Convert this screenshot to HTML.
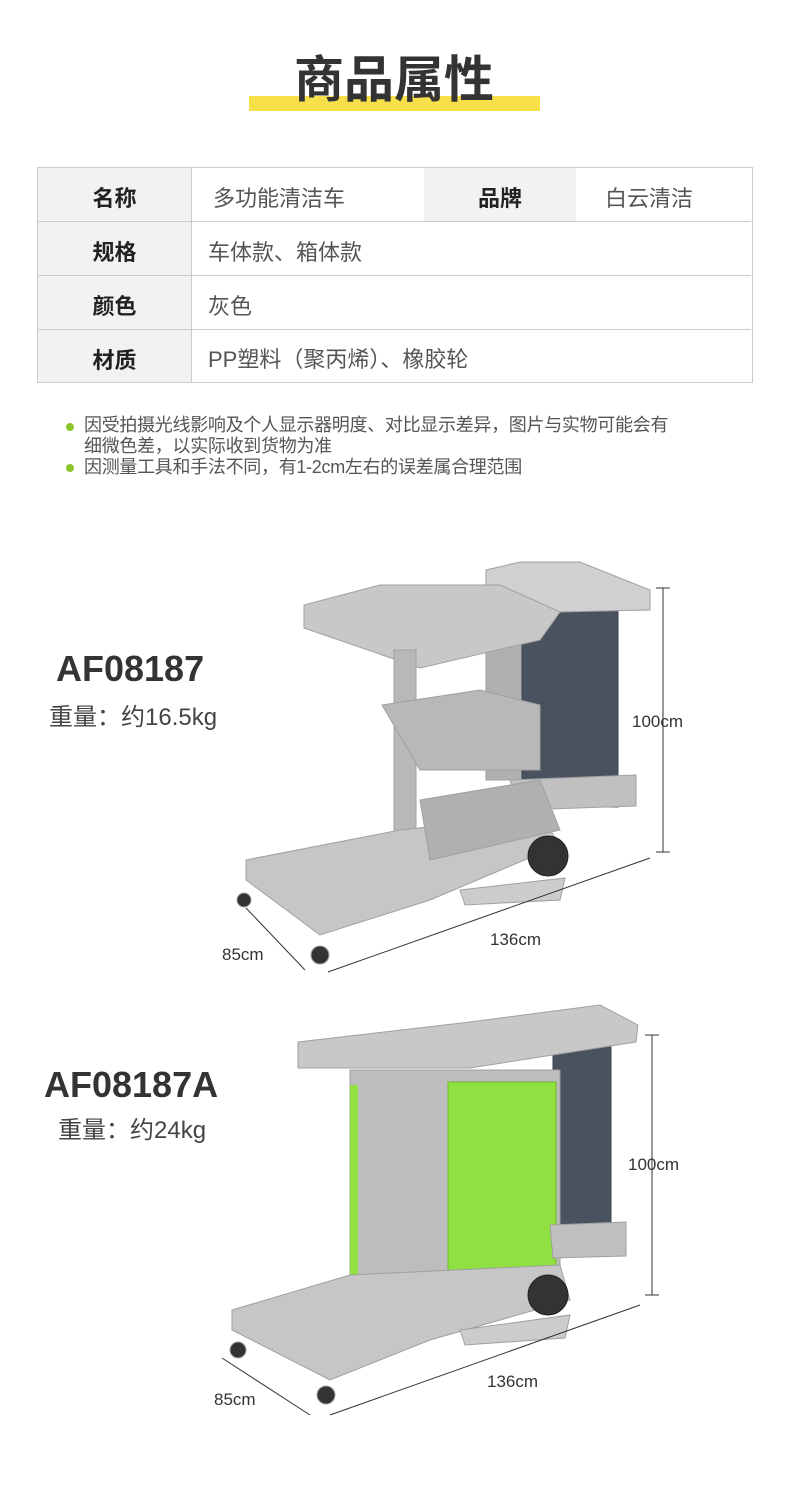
<!DOCTYPE html>
<html><head><meta charset="utf-8"><style>
body{margin:0;width:790px;height:1500px;background:#fff;position:relative;overflow:hidden;font-family:"Liberation Sans","Noto Sans CJK SC",sans-serif;color:#333}
.a{position:absolute}
.t{font-size:22px;color:#555}
.l{font-size:22px;font-weight:bold;color:#222;text-align:center}
</style></head><body>
<div class="a" style="left:249px;top:96px;width:291px;height:15px;background:#f7e04a"></div>
<div class="a" style="left:294px;top:40px;font-size:50px;font-weight:bold;color:#333;letter-spacing:0px;line-height:80px">商品属性</div>

<div class="a" style="left:37px;top:167px;width:716px;height:216px;border:1px solid #ccc;box-sizing:border-box"></div>
<div class="a" style="left:38px;top:168px;width:153px;height:214px;background:#f2f2f2"></div>
<div class="a" style="left:424px;top:168px;width:152px;height:53px;background:#f2f2f2"></div>
<div class="a" style="left:191px;top:167px;width:1px;height:215px;background:#ccc"></div>
<div class="a" style="left:37px;top:221px;width:714px;height:1px;background:#ccc"></div>
<div class="a" style="left:37px;top:275px;width:714px;height:1px;background:#ccc"></div>
<div class="a" style="left:37px;top:329px;width:714px;height:1px;background:#ccc"></div>
<div class="a l" style="left:38px;top:181px;width:153px">名称</div>
<div class="a l" style="left:38px;top:235px;width:153px">规格</div>
<div class="a l" style="left:38px;top:289px;width:153px">颜色</div>
<div class="a l" style="left:38px;top:343px;width:153px">材质</div>
<div class="a l" style="left:424px;top:181px;width:152px">品牌</div>
<div class="a t" style="left:213px;top:181px">多功能清洁车</div>
<div class="a t" style="left:605px;top:181px">白云清洁</div>
<div class="a t" style="left:208px;top:235px">车体款、箱体款</div>
<div class="a t" style="left:208px;top:289px">灰色</div>
<div class="a t" style="left:208px;top:342px">PP塑料（聚丙烯）、橡胶轮</div>

<div class="a" style="left:66px;top:423px;width:8px;height:8px;border-radius:50%;background:#8bc52a"></div>
<div class="a" style="left:66px;top:464px;width:8px;height:8px;border-radius:50%;background:#8bc52a"></div>
<div class="a" style="left:84px;top:415px;font-size:18px;line-height:21px;color:#555;width:660px;letter-spacing:-0.3px">因受拍摄光线影响及个人显示器明度、对比显示差异，图片与实物可能会有<br>细微色差，以实际收到货物为准<br>因测量工具和手法不同，有1-2cm左右的误差属合理范围</div>

<div class="a" style="left:56px;top:648px;font-size:36px;font-weight:bold;color:#333">AF08187</div>
<div class="a" style="left:49px;top:697px;font-size:24px;color:#444">重量：约16.5kg</div>
<div class="a" style="left:44px;top:1064px;font-size:36px;font-weight:bold;color:#333">AF08187A</div>
<div class="a" style="left:58px;top:1110px;font-size:24px;color:#444">重量：约24kg</div>

<svg class="a" style="left:0;top:0" width="790" height="1500">
<g fill="#c4c4c4" stroke="#a0a0a0" stroke-width="1">
<!-- cart 1 -->
<rect x="486" y="600" width="40" height="180" fill="#b0b0b0"/>
<rect x="522" y="602" width="96" height="205" fill="#4a5260" stroke="#3c434f"/>
<polygon points="486,570 520,562 580,562 650,590 650,610 560,612 486,600" fill="#d0d0d0"/>
<polygon points="304,605 380,585 500,585 560,612 540,640 420,668 304,628" fill="#c8c8c8"/>
<rect x="394" y="650" width="22" height="210" fill="#b8b8b8"/>
<polygon points="382,705 480,690 540,705 540,770 420,770" fill="#b8b8b8"/>
<polygon points="510,780 636,775 636,806 520,810" fill="#c0c0c0"/>
<polygon points="246,860 400,830 540,815 560,845 430,900 320,935 246,880" fill="#c6c6c6"/>
<polygon points="420,800 540,780 560,830 430,860" fill="#b0b0b0"/>
<polygon points="460,890 565,878 560,900 465,905" fill="#ccc"/>
<circle cx="548" cy="856" r="20" fill="#333" stroke="#222"/>
<circle cx="244" cy="900" r="7" fill="#333"/>
<circle cx="320" cy="955" r="9" fill="#333"/>
<!-- cart 2 -->
<rect x="553" y="1030" width="58" height="222" fill="#4a5260" stroke="#3c434f"/>
<polygon points="298,1042 470,1022 600,1005 638,1025 636,1042 470,1068 298,1068" fill="#c8c8c8"/>
<rect x="350" y="1070" width="210" height="220" fill="#bdbdbd"/>
<rect x="350" y="1085" width="8" height="200" fill="#8fe040" stroke="none"/>
<rect x="448" y="1082" width="108" height="200" fill="#8fe040" stroke="#6fb82a"/>
<polygon points="550,1225 626,1222 626,1256 553,1258" fill="#c0c0c0"/>
<polygon points="232,1310 350,1275 560,1265 570,1300 430,1340 330,1380 232,1330" fill="#c6c6c6"/>
<polygon points="460,1330 570,1315 565,1338 465,1345" fill="#ccc"/>
<circle cx="548" cy="1295" r="20" fill="#333" stroke="#222"/>
<circle cx="238" cy="1350" r="8" fill="#333"/>
<circle cx="326" cy="1395" r="9" fill="#333"/>
</g>
<g stroke="#333" stroke-width="1" fill="none">
<line x1="663" y1="588" x2="663" y2="852"/><line x1="656" y1="588" x2="670" y2="588"/><line x1="656" y1="852" x2="670" y2="852"/>
<line x1="246" y1="908" x2="305" y2="970"/><line x1="328" y1="972" x2="650" y2="858"/>
<line x1="652" y1="1035" x2="652" y2="1295"/><line x1="645" y1="1035" x2="659" y2="1035"/><line x1="645" y1="1295" x2="659" y2="1295"/>
<line x1="222" y1="1358" x2="310" y2="1415"/><line x1="330" y1="1415" x2="640" y2="1305"/>
</g>
<g font-family="Liberation Sans, sans-serif" font-size="17" fill="#333">
<text x="632" y="727">100cm</text><text x="490" y="945">136cm</text><text x="222" y="960">85cm</text>
<text x="628" y="1170">100cm</text><text x="487" y="1387">136cm</text><text x="214" y="1405">85cm</text>
</g>
</svg>
</body></html>
